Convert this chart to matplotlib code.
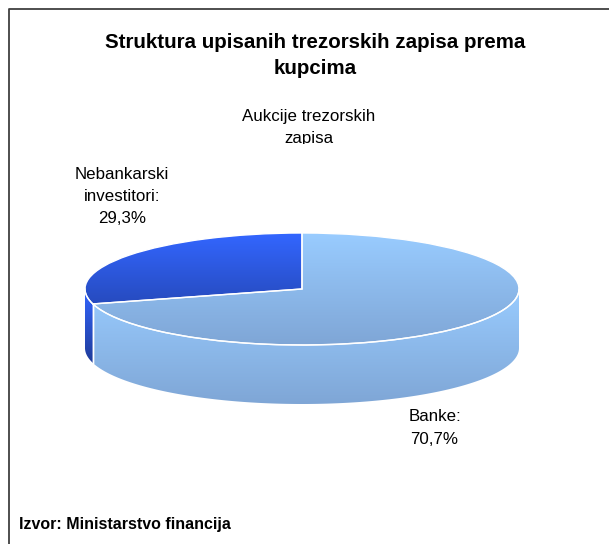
import numpy as np
import matplotlib
matplotlib.use("Agg")
import matplotlib.pyplot as plt
from matplotlib.patches import Wedge, Polygon, Rectangle
from matplotlib.transforms import Affine2D
from matplotlib.colors import LinearSegmentedColormap

categories = ["Banke", "Nebankarski\ninvestitori"]
shares = [70.7, 29.3]
title_text = "Struktura upisanih trezorskih zapisa prema\nkupcima"
series_name = "Aukcije trezorskih\nzapisa"
source_text = "Izvor: Ministarstvo financija"

W, H = 609, 544
plt.rcParams["font.family"] = ["Liberation Sans", "DejaVu Sans"]
fig = plt.figure(figsize=(W / 100, H / 100), dpi=100)
ax = fig.add_axes([0, 0, 1, 1])
ax.set_xlim(0, W)
ax.set_ylim(H, 0)
ax.axis("off")

# chart frame
ax.plot([9, 9, W + 5], [H + 5, 9, 9], color="#404040", lw=1.3, clip_on=False)

cx, cy, rx, ry, depth = 302, 289, 217, 56, 59
unit = Affine2D().scale(rx, ry).translate(cx, cy) + ax.transData
# y axis points down, so positive angle runs clockwise from +x
start = -90.0
angles = np.cumsum([0] + shares) * 3.6 + start

light = LinearSegmentedColormap.from_list("l", ["#99CCFF", "#7FA6D6"])
dark = LinearSegmentedColormap.from_list("d", ["#3366FF", "#1F3B99"])
cmaps = [light, dark]
grad = np.linspace(0, 1, 256).reshape(-1, 1)


def filled(patch, cmap, y0, y1):
    patch.set_facecolor("none")
    patch.set_edgecolor("none")
    ax.add_patch(patch)
    im = ax.imshow(grad, cmap=cmap, extent=(0, W, y1, y0), aspect="auto", zorder=2)
    im.set_clip_path(patch)


def side(a0, a1, cmap):
    lo, hi = max(a0, 0), min(a1, 180)
    if lo >= hi:
        return
    t = np.radians(np.linspace(lo, hi, 200))
    xs, ys = cx + rx * np.cos(t), cy + ry * np.sin(t)
    pts = np.r_[np.c_[xs, ys], np.c_[xs[::-1], ys[::-1] + depth]]
    filled(Polygon(pts, closed=True, transform=ax.transData), cmap, pts[:, 1].min(), pts[:, 1].max())
    # white seams
    ax.plot(xs, ys, color="white", lw=1.0, zorder=4)
    for i in ([0] if lo > 0 else []) + ([-1] if hi < 180 else []):
        ax.plot([xs[i], xs[i]], [ys[i], ys[i] + depth], color="white", lw=1.0, zorder=4)


for k in range(len(shares)):
    a0, a1 = angles[k], angles[k + 1]
    side(a0, a1, cmaps[k])
    w = Wedge((0, 0), 1, a0, a1, transform=unit)
    filled(w, cmaps[k], cy - ry, cy + ry)
    ax.add_patch(Wedge((0, 0), 1, a0, a1, transform=unit, facecolor="none",
                       edgecolor="white", lw=1.0, zorder=4))

ax.set_xlim(0, W)
ax.set_ylim(H, 0)

ax.text(315, 43, title_text.split("\n")[0], ha="center", va="center", fontsize=14.8, fontweight="bold")
ax.text(315, 68, title_text.split("\n")[1], ha="center", va="center", fontsize=14.8, fontweight="bold")

l1, l2 = series_name.split("\n")
ax.text(309, 117, l1, ha="center", va="center", fontsize=12.2)
t2 = ax.text(309, 139, l2, ha="center", va="center", fontsize=12.2, clip_on=True)
t2.set_clip_path(Rectangle((0, 0), W, 144, transform=ax.transData))

ax.text(434.5, 428, f"{categories[0]}:\n{shares[0]:.1f}%".replace(".", ","), ha="center", va="center",
        fontsize=12.2, linespacing=1.6)
ax.text(122, 196.5, f"{categories[1]}:\n{shares[1]:.1f}%".replace(".", ","), ha="center", va="center",
        fontsize=12.2, linespacing=1.6)
ax.text(19, 524, source_text, ha="left", va="center", fontsize=11.5, fontweight="bold")

fig.savefig("out.png", dpi=100, facecolor="white")
